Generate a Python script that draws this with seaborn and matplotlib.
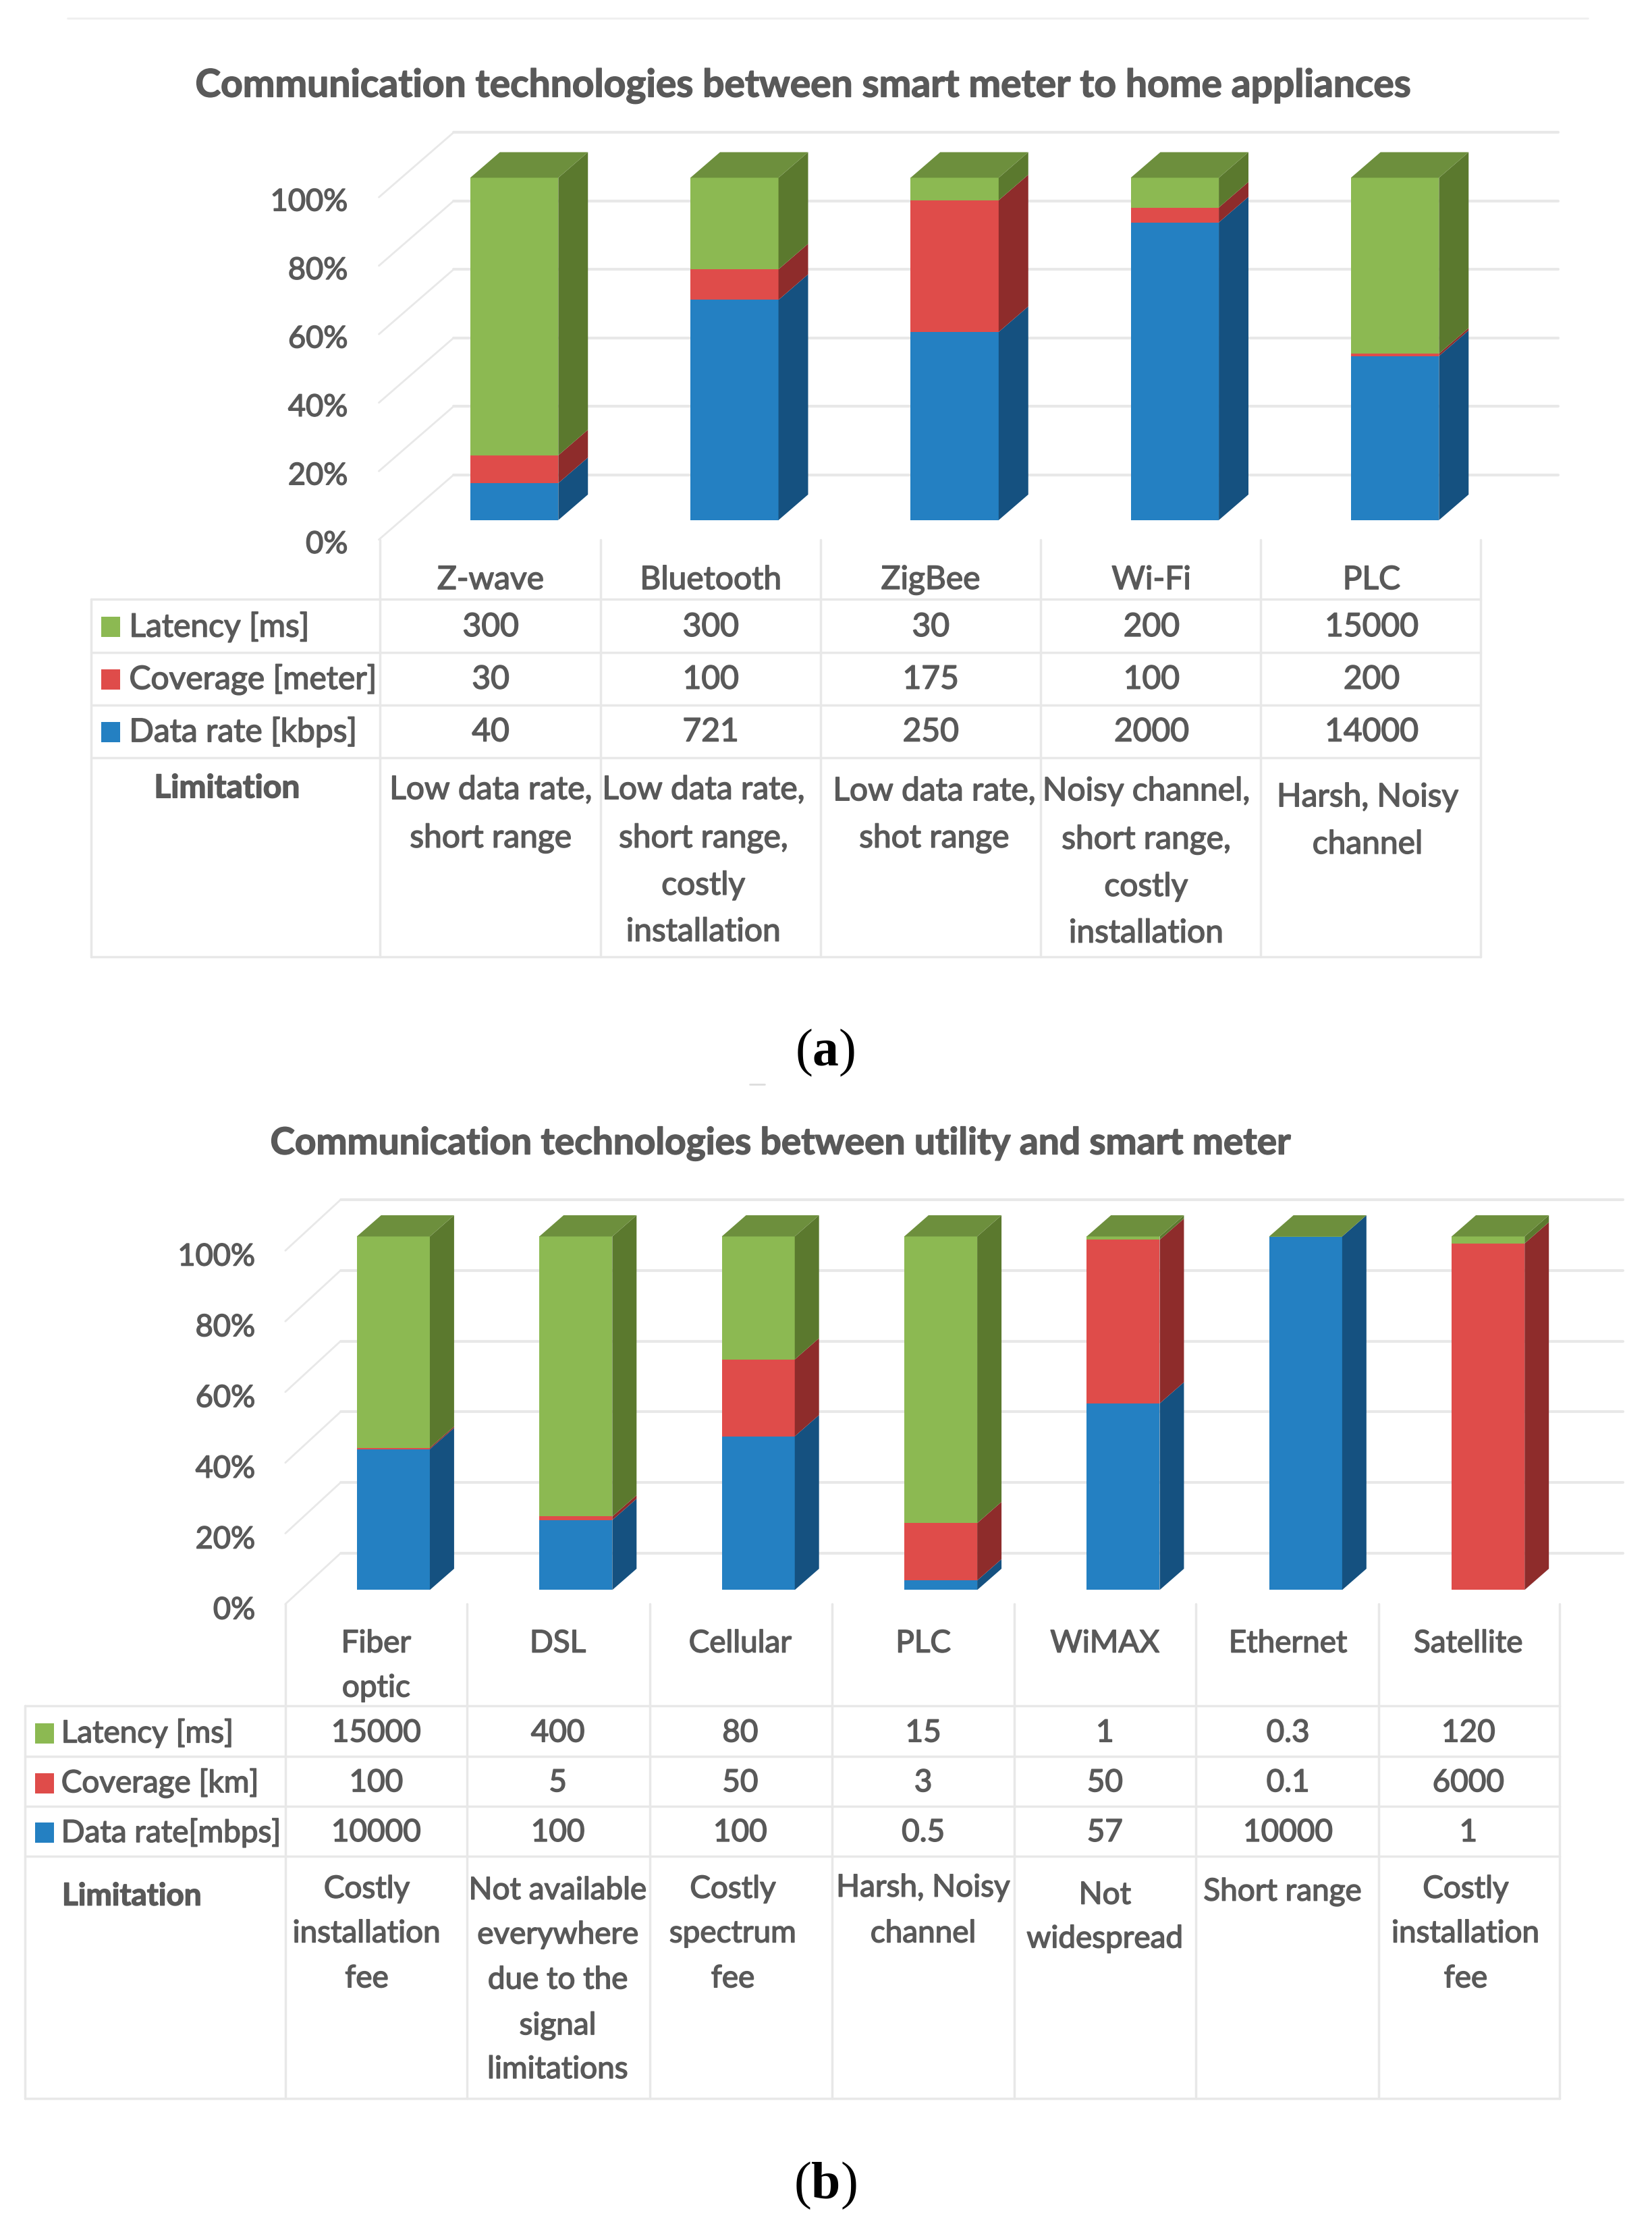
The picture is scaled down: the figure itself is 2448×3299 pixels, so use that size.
import numpy as np
import pandas as pd
import matplotlib
matplotlib.use("Agg")
import matplotlib.pyplot as plt
import matplotlib.patheffects as pe
from matplotlib.text import Text
from matplotlib.transforms import ScaledTranslation
import seaborn as sns

# panel (a) data
cats_a = ["Z-wave", "Bluetooth", "ZigBee", "Wi-Fi", "PLC"]
latency_a = [300, 300, 30, 200, 15000]
coverage_a = [30, 100, 175, 100, 200]
rate_a = [40, 721, 250, 2000, 14000]
latency_a_txt = ["300", "300", "30", "200", "15000"]
coverage_a_txt = ["30", "100", "175", "100", "200"]
rate_a_txt = ["40", "721", "250", "2000", "14000"]
limits_a = [
    ["Low data rate,", "short range"],
    ["Low data rate,", "short range,", "costly", "installation"],
    ["Low data rate,", "shot range"],
    ["Noisy channel,", "short range,", "costly", "installation"],
    ["Harsh, Noisy", "channel"],
]
names_a = ["Latency [ms]", "Coverage [meter]", "Data rate [kbps]"]

# panel (b) data
cats_b = [["Fiber", "optic"], ["DSL"], ["Cellular"], ["PLC"], ["WiMAX"], ["Ethernet"], ["Satellite"]]
latency_b = [15000, 400, 80, 15, 1, 0.3, 120]
coverage_b = [100, 5, 50, 3, 50, 0.1, 6000]
rate_b = [10000, 100, 100, 0.5, 57, 10000, 1]
latency_b_txt = ["15000", "400", "80", "15", "1", "0.3", "120"]
coverage_b_txt = ["100", "5", "50", "3", "50", "0.1", "6000"]
rate_b_txt = ["10000", "100", "100", "0.5", "57", "10000", "1"]
limits_b = [
    ["Costly", "installation", "fee"],
    ["Not available", "everywhere", "due to the", "signal", "limitations"],
    ["Costly", "spectrum", "fee"],
    ["Harsh, Noisy", "channel"],
    ["Not", "widespread"],
    ["Short range"],
    ["Costly", "installation", "fee"],
]
names_b = ["Latency [ms]", "Coverage [km]", "Data rate[mbps]"]

title_a = "Communication technologies between smart meter to home appliances"
title_b = "Communication technologies between utility and smart meter"
pct_ticks = [0, 20, 40, 60, 80, 100]

BLUE, RED, GREEN = "#2480c2", "#df4c4a", "#8cb952"
BLUE_D, RED_D, GREEN_D = "#155180", "#8e2c2b", "#5b792e"
GREEN_TOP = "#6d8f3d"
GRAY = "#595959"
LINE = "#e8e8e8"

W, H = 2448, 3299
K = 0.9972   # layout numbers below were read a bit too large
TY = 2.5     # text sits slightly lower than centre in the reference

sns.set_theme(style="white")
plt.rcParams["font.family"] = ["Lato", "DejaVu Sans"]
plt.rcParams["mathtext.fontset"] = "custom"
plt.rcParams["mathtext.bf"] = "Liberation Serif:bold"
plt.rcParams["mathtext.rm"] = "Liberation Serif"

fig = plt.figure(figsize=(W / 100, H / 100), dpi=100, facecolor="white")

# overlay in pixel coords for the table part
bg = fig.add_axes([0, 0, 1, 1], zorder=0)
bg.set_xlim(0, W / K)
bg.set_ylim(H / K, 0)
bg.axis("off")


def txt(x, y, s, fs, **kw):
    kw.setdefault("ha", "center")
    bg.text(x, y + TY, s, va="center", fontsize=fs, color=GRAY, **kw)


def stacked_3d(box, xlim, ylim, cats, rate, cov, lat, depth, wall, pad, label_drop):
    left, right, bottom, top = [v * K for v in box]
    ax = fig.add_axes([left / W, 1 - bottom / H, (right - left) / W, (bottom - top) / H], zorder=1)
    ax.patch.set_alpha(0)

    total = np.array(rate) + np.array(cov) + np.array(lat)
    p_rate = np.array(rate) / total * 100
    p_cov = np.array(cov) / total * 100
    p_lat = np.array(lat) / total * 100

    sns.barplot(x=cats, y=p_rate, color=BLUE, saturation=1, width=0.4, ax=ax, linewidth=0)
    sns.barplot(x=cats, y=p_cov, bottom=p_rate, color=RED, saturation=1, width=0.4, ax=ax, linewidth=0)
    sns.barplot(x=cats, y=p_lat, bottom=p_rate + p_cov, color=GREEN, saturation=1, width=0.4, ax=ax, linewidth=0)

    ax.set_xlim(*xlim)
    ax.set_ylim(*ylim)
    sns.despine(ax=ax, left=True, bottom=True)

    # side and top faces are worked out from the bars seaborn made
    dx, dy = depth
    n = len(cats)
    for k, bar in enumerate(ax.patches):
        x0 = bar.get_x()
        x1 = x0 + bar.get_width()
        y0 = bar.get_y()
        y1 = y0 + bar.get_height()
        side = [BLUE_D, RED_D, GREEN_D][k // n]
        ax.fill([x1, x1 + dx, x1 + dx, x1], [y0, y0 + dy, y1 + dy, y1], color=side, lw=0, zorder=3)
        if k // n == 2:
            ax.fill([x0, x0 + dx, x1 + dx, x1], [y1, y1 + dy, y1 + dy, y1], color=GREEN_TOP, lw=0, zorder=3)

    # back wall + floor lines
    wx, wy = wall
    for t in pct_ticks:
        ya = ylim[0] + t
        ax.plot([xlim[0], xlim[0] + wx], [ya, ya + wy], color=LINE, lw=2, zorder=0.5, clip_on=False)
        ax.plot([xlim[0] + wx, xlim[1]], [ya + wy, ya + wy], color=LINE, lw=3, zorder=0.5, clip_on=False)

    ax.set_xticks([])
    ax.set_yticks([ylim[0] + t for t in pct_ticks], [f"{t}%" for t in pct_ticks])
    ax.tick_params(axis="y", length=0, pad=pad, labelsize=32.5, labelcolor=GRAY)
    shift = ScaledTranslation(0, -label_drop / 72, fig.dpi_scale_trans)
    for lab in ax.get_yticklabels():
        lab.set_transform(lab.get_transform() + shift)
    ax.set_xlabel("")
    ax.set_ylabel("")
    return ax


def draw_table(left, cols, rows, col_top, names, value_rows, swatch_x, name_x, value_x, value_y, fs):
    for x in cols:
        bg.plot([x, x], [col_top, rows[-1]], color=LINE, lw=2.5)
    bg.plot([left, left], [rows[0], rows[-1]], color=LINE, lw=2.5)
    for y in rows:
        bg.plot([left, cols[-1]], [y, y], color=LINE, lw=2.5)
    for name, vals, colr, vy in zip(names, value_rows, [GREEN, RED, BLUE], value_y):
        bg.fill_between([swatch_x, swatch_x + 28], vy - 12, vy + 18, color=colr, lw=0)
        txt(name_x, vy, name, fs, ha="left")
        for x, v in zip(value_x, vals):
            txt(x, vy, v, fs)


def stacked_lines(x, ys, lines, fs):
    for y, line in zip(ys, lines):
        txt(x, y, line, fs)


# ---- panel a ----
bg.plot([100, 2360], [27, 27], color="#efefef", lw=2)
txt(1195, 125, title_a, 41, fontweight="bold")
stacked_3d((563, 2315, 802, 197), (-0.615, 4.74), (-5.7, 113.2), cats_a,
           rate_a, coverage_a, latency_a, (0.1346, 7.47), (0.339, 18.9), 33, 2.5)
cols_a = [565, 892, 1219, 1546, 1873, 2200]
rows_a = [890, 970, 1048, 1126, 1422]
vx_a = [729, 1056, 1383, 1711, 2038]
draw_table(135, cols_a, rows_a, 802, names_a, [latency_a_txt, coverage_a_txt, rate_a_txt],
           150, 192, vx_a, [929, 1007, 1085], 34.5)
for x, c in zip(vx_a, cats_a):
    txt(x, 859, c, 34.5)
txt(337, 1169, "Limitation", 34.5, fontweight="bold")
lim_x_a = [729, 1045, 1388, 1703, 2032]
lim_y_a = [[1171, 1243], [1171, 1243, 1313, 1382], [1173, 1243], [1173, 1245, 1315, 1384], [1182, 1252]]
for x, ys, lines in zip(lim_x_a, lim_y_a, limits_a):
    stacked_lines(x, ys, lines, 34.5)
bg.text(1226, 1562 + TY, r"($\mathbf{a}$)", ha="center", va="center", fontsize=56, color="black",
        family="Liberation Serif")
bg.plot([1114, 1136], [1612, 1612], color="#dddddd", lw=2)

# ---- panel b ----
txt(1160, 1697, title_b, 39.6, fontweight="bold")
stacked_3d((424, 2412, 2384, 1783), (-0.592, 6.74), (-4.0, 110.4), [c[0] for c in cats_b],
           rate_b, coverage_b, latency_b, (0.133, 6.0), (0.303, 14.4), 32, 4)
cols_b = [424, 694, 966, 1236, 1507, 1777, 2049, 2317]
rows_b = [2535, 2610, 2685, 2759, 3119]
vx_b = [559, 829, 1100, 1372, 1642, 1914, 2182]
draw_table(37, cols_b, rows_b, 2384, names_b, [latency_b_txt, coverage_b_txt, rate_b_txt],
           52, 91, vx_b, [2573, 2647, 2721], 33)
for x, c in zip(vx_b, cats_b):
    stacked_lines(x, [2440, 2506][:len(c)], c, 33)
txt(196, 2816, "Limitation", 33, fontweight="bold")
lim_x_b = [545, 829, 1089, 1372, 1642, 1906, 2178]
lim_y_b = [[2805, 2871, 2938], [2807, 2873, 2940, 3008, 3073], [2805, 2871, 2938], [2803, 2871],
           [2814, 2879], [2809], [2805, 2871, 2938]]
for x, ys, lines in zip(lim_x_b, lim_y_b, limits_b):
    stacked_lines(x, ys, lines, 33)
bg.text(1226, 3246 + TY, r"($\mathbf{b}$)", ha="center", va="center", fontsize=56, color="black",
        family="Liberation Serif")

# the reference text is heavier than plain Lato, thicken it a little
for t in fig.findobj(Text):
    if t.get_color() == GRAY or t.get_color() == "#595959":
        t.set_path_effects([pe.withStroke(linewidth=1.1, foreground=GRAY)])

fig.savefig("out.png", dpi=100)
